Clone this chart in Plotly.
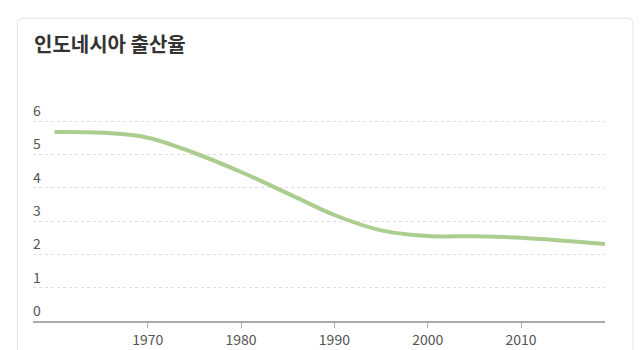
import plotly.graph_objects as go

years = [1960, 1965, 1970, 1975, 1980, 1985, 1990, 1995, 2000, 2005, 2010, 2015, 2019]
fertility = [5.67, 5.65, 5.50, 5.04, 4.47, 3.83, 3.18, 2.72, 2.55, 2.54, 2.50, 2.40, 2.31]
x_ticks = [1970, 1980, 1990, 2000, 2010]
y_ticks = [0, 1, 2, 3, 4, 5, 6]
title_text = "인도네시아 출산율"

W, H = 640, 350
Y_TOP = 6.15
UNIT = 33.33
ML, MR, MB = 33, 34.5, 28.7
MT = H - MB - Y_TOP * UNIT
PW = W - ML - MR
PH = H - MT - MB

def px(x):
    return (x - ML) / PW

def py(y):
    return (H - MB - y) / PH

FONT = "Noto Sans CJK KR"

fig = go.Figure()
fig.add_trace(go.Scatter(
    x=years, y=fertility, mode="lines",
    line=dict(color="#abcd8f", width=4, shape="spline", smoothing=1.0),
    hoverinfo="skip", showlegend=False,
))

# card with rounded corners
x0, x1, y0, y1, r = 17.5, 633.5, 18.5, 362, 6
path = (
    f"M {px(x0 + r)} {py(y0)} L {px(x1 - r)} {py(y0)} "
    f"Q {px(x1)} {py(y0)} {px(x1)} {py(y0 + r)} "
    f"L {px(x1)} {py(y1)} L {px(x0)} {py(y1)} L {px(x0)} {py(y0 + r)} "
    f"Q {px(x0)} {py(y0)} {px(x0 + r)} {py(y0)} Z"
)
fig.add_shape(type="path", path=path, xref="paper", yref="paper",
              line=dict(color="#e2e4e8", width=1), fillcolor="rgba(0,0,0,0)",
              layer="below")

fig.add_annotation(
    text=f"<b>{title_text}</b>", xref="paper", yref="paper",
    x=px(32), y=py(44), xanchor="left", yanchor="middle", showarrow=False,
    font=dict(family=FONT, size=20, color="#333333"),
)

fig.update_layout(
    width=W, height=H,
    margin=dict(l=ML, r=MR, t=MT, b=MB, pad=0, autoexpand=False),
    paper_bgcolor="white", plot_bgcolor="white",
    font=dict(family=FONT, size=14, color="#555555"),
    xaxis=dict(
        range=[1957.7, 2019.0], tickvals=x_ticks, ticktext=[str(v) for v in x_ticks],
        showgrid=False, zeroline=False, showline=True, linecolor="#aaaaaa", linewidth=1.5,
        ticks="outside", ticklen=5, tickcolor="#aaaaaa", tickwidth=1,
        tickfont=dict(family=FONT, size=14, color="#555555"), automargin=False,
    ),
    yaxis=dict(
        range=[0, Y_TOP], tickvals=y_ticks, ticktext=[str(v) for v in y_ticks],
        showgrid=True, gridcolor="#dddddd", griddash="3px,3px", gridwidth=1,
        zeroline=False, showline=False, ticks="",
        ticklabelposition="inside top", ticklabeloverflow="allow",
        ticklabelstandoff=-3,
        tickfont=dict(family=FONT, size=14, color="#555555"), automargin=False,
    ),
)

fig.write_html("out.html")
